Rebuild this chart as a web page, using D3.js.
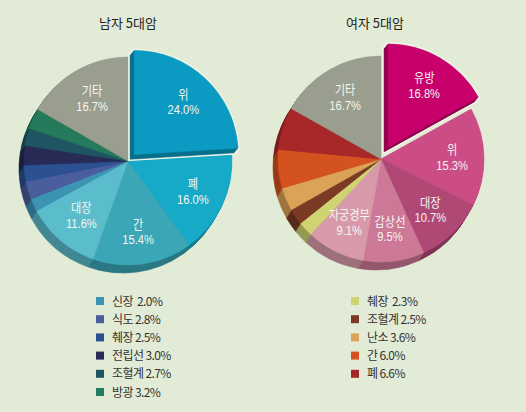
<!DOCTYPE html>
<html><head><meta charset="utf-8">
<script src="https://cdn.jsdelivr.net/npm/d3@7"></script>
<style>body{margin:0;background:#e2ebd5;} svg{display:block}</style>
</head><body>
<svg id="c" width="526" height="412"></svg>
<script>
// ---- data ----
const maleTitle = "남자 5대암";
const maleNames  = ["위","폐","간","대장","신장","식도","췌장","전립선","조혈계","방광","기타"];
const maleValues = [24.0,16.0,15.4,11.6,2.0,2.8,2.5,3.0,2.7,3.2,16.7];
const maleColors = ["#0a9ac2","#16aac8","#3aa6b6","#5bbccb","#3d93b4","#4a5d9c","#2b5192","#272b56","#1f5562","#247a5a","#9a9e8e"];
const maleLabeled = ["위","폐","간","대장","기타"];
const maleLegend  = ["신장","식도","췌장","전립선","조혈계","방광"];
const maleExplode = "위";

const femaleTitle = "여자 5대암";
const femaleNames  = ["유방","위","대장","갑상선","자궁경부","췌장","조혈계","난소","간","폐","기타"];
const femaleValues = [16.8,15.3,10.7,9.5,9.1,2.3,2.5,3.6,6.0,6.6,16.7];
const femaleColors = ["#c8006c","#cc4c86","#b04876","#cc7896","#d89aaa","#cfd371","#7a3a24","#dca257","#d3521f","#a8282a","#9a9e8e"];
const femaleLabeled = ["유방","위","대장","갑상선","자궁경부","기타"];
const femaleLegend  = ["췌장","조혈계","난소","간","폐"];
const femaleExplode = "유방";

// ---- drawing ----
const svg = d3.select("#c");
svg.append("rect").attr("width",526).attr("height",412).attr("fill","#e2ebd5");
const FONT = "'Noto Sans CJK KR','Noto Sans',sans-serif";
const NUMFONT = "'Liberation Sans','Noto Sans CJK KR',sans-serif";
const fmt = v => d3.format(".1f")(v) + "%";

function drawPie(cfg){
  const data = cfg.names.map((n,i)=>({name:n, v:cfg.values[i], color:cfg.colors[i]}));
  const g = svg.append("g").attr("transform",`translate(${cfg.cx},${cfg.cy})`);
  const arcs = d3.pie().sort(null).value(d=>d.v)(data);
  const arc = d3.arc().innerRadius(0).outerRadius(cfg.r);
  const depth = [-5, 8], steps = 8;
  const mid = a => (a.startAngle + a.endAngle)/2;
  const off = a => a.data.name === cfg.explode ? [Math.sin(mid(a))*cfg.ex, -Math.cos(mid(a))*cfg.ex] : [0,0];
  const dark = a => d3.color(a.data.color).darker(0.9).formatHex();
  const normal = arcs.filter(a=>a.data.name !== cfg.explode);
  const expl = arcs.filter(a=>a.data.name === cfg.explode);

  for(let s=steps; s>=1; s--){
    normal.forEach(a=>{
      g.append("path").attr("d",arc(a))
        .attr("transform",`translate(${depth[0]*s/steps},${depth[1]*s/steps})`)
        .attr("fill",dark(a)).attr("stroke",dark(a)).attr("stroke-width",0.6);
    });
  }
  normal.forEach(a=>{
    g.append("path").attr("d",arc(a)).attr("fill",a.data.color)
      .attr("stroke",a.data.color).attr("stroke-width",0.6);
  });
  expl.forEach(a=>{
    const o = off(a);
    for(let s=steps; s>=0; s--){
      g.append("path").attr("d",arc(a))
        .attr("transform",`translate(${o[0]+depth[0]*s/steps*0.8},${o[1]+depth[1]*s/steps*0.6})`)
        .attr("fill","#f3f3e6").attr("stroke","#f3f3e6").attr("stroke-width",3.5);
    }
    for(let s=steps; s>=1; s--){
      g.append("path").attr("d",arc(a))
        .attr("transform",`translate(${o[0]+depth[0]*s/steps*0.8},${o[1]+depth[1]*s/steps*0.6})`)
        .attr("fill",dark(a)).attr("stroke",dark(a)).attr("stroke-width",0.6);
    }
    g.append("path").attr("d",arc(a)).attr("transform",`translate(${o[0]},${o[1]})`)
      .attr("fill",a.data.color).attr("stroke",a.data.color).attr("stroke-width",0.6);
  });

  const lr = cfg.r*0.69;
  const larc = d3.arc().innerRadius(lr).outerRadius(lr);
  arcs.filter(a=>cfg.labeled.includes(a.data.name)).forEach(a=>{
    const c = larc.centroid(a), o = off(a);
    const t = g.append("g").attr("transform",`translate(${c[0]+o[0]},${c[1]+o[1]}) scale(0.86,1)`);
    t.append("text").attr("text-anchor","middle").attr("y",-3.5)
      .attr("font-family",FONT).attr("font-size",13).attr("fill","#f4f6f0").text(a.data.name);
    t.append("text").attr("text-anchor","middle").attr("y",12)
      .attr("font-family",NUMFONT).attr("font-size",13).attr("fill","#f4f6f0").text(fmt(a.data.v));
  });

  svg.append("text").attr("x",cfg.tx).attr("y",28).attr("text-anchor","middle")
    .attr("font-family",FONT).attr("font-size",13).attr("fill","#222").text(cfg.title);

  const y = d3.scalePoint().domain(cfg.legend).range([cfg.ly, cfg.ly + 18.2*(cfg.legend.length-1)]);
  cfg.legend.forEach((n,i)=>{
    const d = data.find(x=>x.name===n);
    svg.append("rect").attr("x",cfg.lx-4).attr("y",y(n)-4).attr("width",8).attr("height",8).attr("fill",d.color);
    svg.append("text").attr("x",cfg.lx+12).attr("y",y(n)+4.5)
      .attr("font-family",FONT).attr("font-size",12).attr("fill","#333").attr("letter-spacing","-0.6")
      .attr("xml:space","preserve")
      .text(n + (i===0 ? "  " : " ") + fmt(d.v));
  });
}

drawPie({names:maleNames, values:maleValues, colors:maleColors, labeled:maleLabeled, legend:maleLegend,
  explode:maleExplode, cx:128, cy:161, r:104, ex:9, title:maleTitle, tx:128, lx:100, ly:301});
drawPie({names:femaleNames, values:femaleValues, colors:femaleColors, labeled:femaleLabeled, legend:femaleLegend,
  explode:femaleExplode, cx:381, cy:159, r:103, ex:14, title:femaleTitle, tx:375, lx:355, ly:301});
</script>
</body></html>
